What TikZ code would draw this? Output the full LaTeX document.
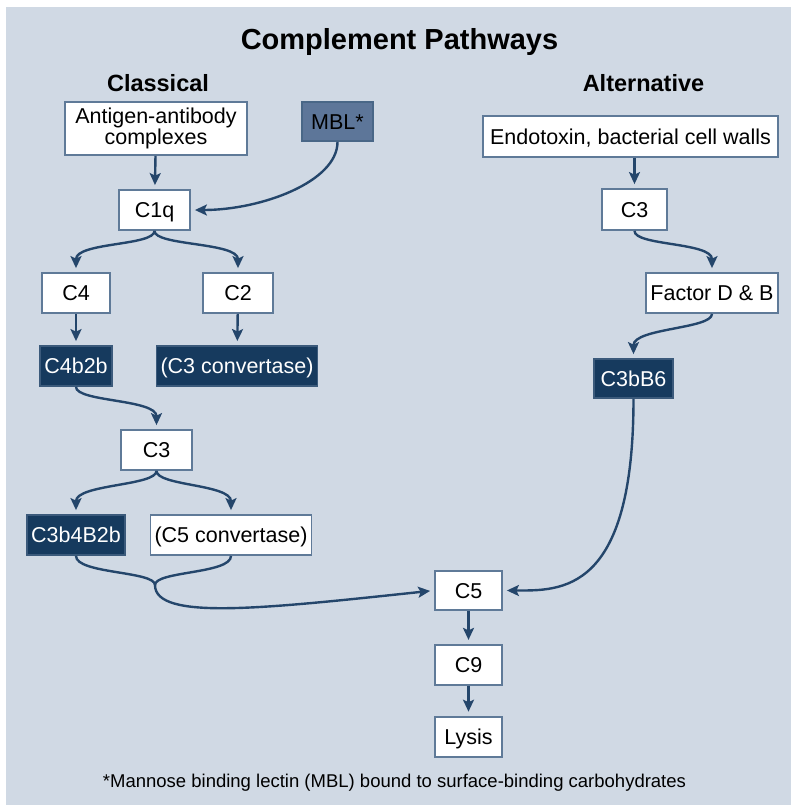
\documentclass[tikz,border=0pt]{standalone}
\usepackage{fontspec}
\setmainfont{Liberation Sans}
\usetikzlibrary{arrows.meta,positioning}

\definecolor{panel}{HTML}{D0D9E4}
\definecolor{navy}{HTML}{163A5E}
\definecolor{rahmen}{HTML}{5F7A98}
\definecolor{mblblau}{HTML}{5D7699}
\definecolor{pfeil}{HTML}{24466B}

\begin{document}
\begin{tikzpicture}[
	x=1pt,
	y=1pt,
	node distance=32pt,
	pile/.style={
		line width=2.4pt,
		draw=pfeil,
		-{Stealth[length=12pt,width=11pt,inset=2.5pt]},
		shorten >=4pt
	},
	linie/.style={
		line width=2.4pt,
		draw=pfeil
	},
	rahmenbox/.style={
		draw=rahmen,
		line width=1.8pt,
		fill=white,
		inner xsep=4pt,
		font=\fontsize{21.5}{20}\selectfont
	},
	kasten/.style={
		rahmenbox,
		minimum width=70pt,
		minimum height=40pt,
		text height=15.4pt,
		text depth=0pt
	},
	dunkel/.style={
		kasten,
		fill=navy,
		draw=rahmen!50!navy,
		text=white
	},
	kopf/.style={
		anchor=base,
		font=\fontsize{23.5}{26}\selectfont\bfseries
	}
]
\useasboundingbox (0,0) rectangle (791,-807);
\fill[panel] (6,-7) rectangle (791,-805);

\node[anchor=base, font=\fontsize{29}{32}\selectfont\bfseries] (TITEL) at (399.5,-49.5) {Complement Pathways};
\node[kopf] (KLASS) at (158,-91) {Classical};
\node[kopf] (ALTERN) at (643.5,-91) {Alternative};

\node[rahmenbox, minimum width=182pt, minimum height=53pt, align=center] (AGAK) at (156,-128.5)
{Antigen-antibody\\complexes};
\node[kasten, fill=mblblau, draw=rahmen!70!navy, minimum width=71pt, minimum height=39pt] (MBL) at (337.5,-121.5) {MBL*};
\node[kasten, minimum width=295pt, minimum height=41pt] (ENDO) at (630.5,-136.5) {Endotoxin, bacterial cell walls};

\node[kasten, minimum width=71pt] (C1Q) at (154.5,-210) {C1q};
\node[kasten, minimum width=65pt, minimum height=41pt] (C3ALT) at (634.5,-209.5) {C3};

\node[kasten, minimum width=68pt] (C4) at (76,-293) {C4};
\node[kasten] (C2) at (238,-293) {C2};
\node[kasten, minimum width=132pt] (FAKTOR) at (712,-293) {Factor D \& B};

\node[dunkel] (C4B2B) at (76,-366) {C4b2b};
\node[dunkel, minimum width=158pt] (C3KONV) at (237,-366) {(C3 convertase)};
\node[dunkel, minimum width=79pt, minimum height=39pt] (C3BB6) at (633.5,-378.5) {C3bB6};

\node[kasten, minimum width=71pt] (C3KLASS) at (156.5,-450) {C3};

\node[dunkel, minimum width=96pt] (C3B4B2B) at (76,-535) {C3b4B2b};
\node[kasten, minimum width=152pt] (C5KONV) at (231,-535) {(C5 convertase)};

\node[kasten, minimum width=67pt, minimum height=39pt] (C5) at (468.5,-590.5) {C5};
\node[kasten, minimum width=67pt] (C9) [below=33pt of C5] {C9};
\node[kasten, minimum width=67pt] (LYSIS) [below=30pt of C9] {Lysis};

\node[anchor=base, font=\fontsize{18.5}{20}\selectfont] (FUSS) at (394.5,-787)
{*Mannose binding lectin (MBL) bound to surface-binding carbohydrates};

\coordinate (JOIN) at (155,-585);

\draw[pile] (AGAK) -- (C1Q);
\draw[pile] (MBL.south) .. controls +(0,-40) and +(70,0) .. (C1Q.east);
\draw[pile] (C1Q.south) .. controls +(0,-15) and +(0,30) .. (C4.north);
\draw[pile] (C1Q.south) .. controls +(0,-15) and +(0,30) .. (C2.north);
\draw[pile] (C4) -- (C4B2B);
\draw[pile] (C2) -- (C3KONV);
\draw[pile] (C4B2B.south) .. controls +(0,-15) and +(0,30) .. (C3KLASS.north);
\draw[pile] (C3KLASS.south) .. controls +(0,-15) and +(0,30) .. (C3B4B2B.north);
\draw[pile] (C3KLASS.south) .. controls +(0,-15) and +(0,30) .. (C5KONV.north);
\draw[linie] (C3B4B2B.south) .. controls +(0,-18) and +(0,14) .. (JOIN);
\draw[linie] (C5KONV.south) .. controls +(0,-18) and +(0,14) .. (JOIN);
\draw[pile] (JOIN) .. controls +(0,-36) and +(-170,-18) .. (C5.west);

\draw[pile] (ENDO.south -| C3ALT.north) -- (C3ALT.north);
\draw[pile] (C3ALT.south) .. controls +(0,-15) and +(0,30) .. (FAKTOR.north);
\draw[pile] (FAKTOR.south) .. controls +(0,-15) and +(0,30) .. (C3BB6.north);
\draw[pile] (C3BB6.south) .. controls +(0,-195) and +(58,0) .. (C5.east);

\draw[pile] (C5) -- (C9);
\draw[pile] (C9) -- (LYSIS);

\end{tikzpicture}
\end{document}
